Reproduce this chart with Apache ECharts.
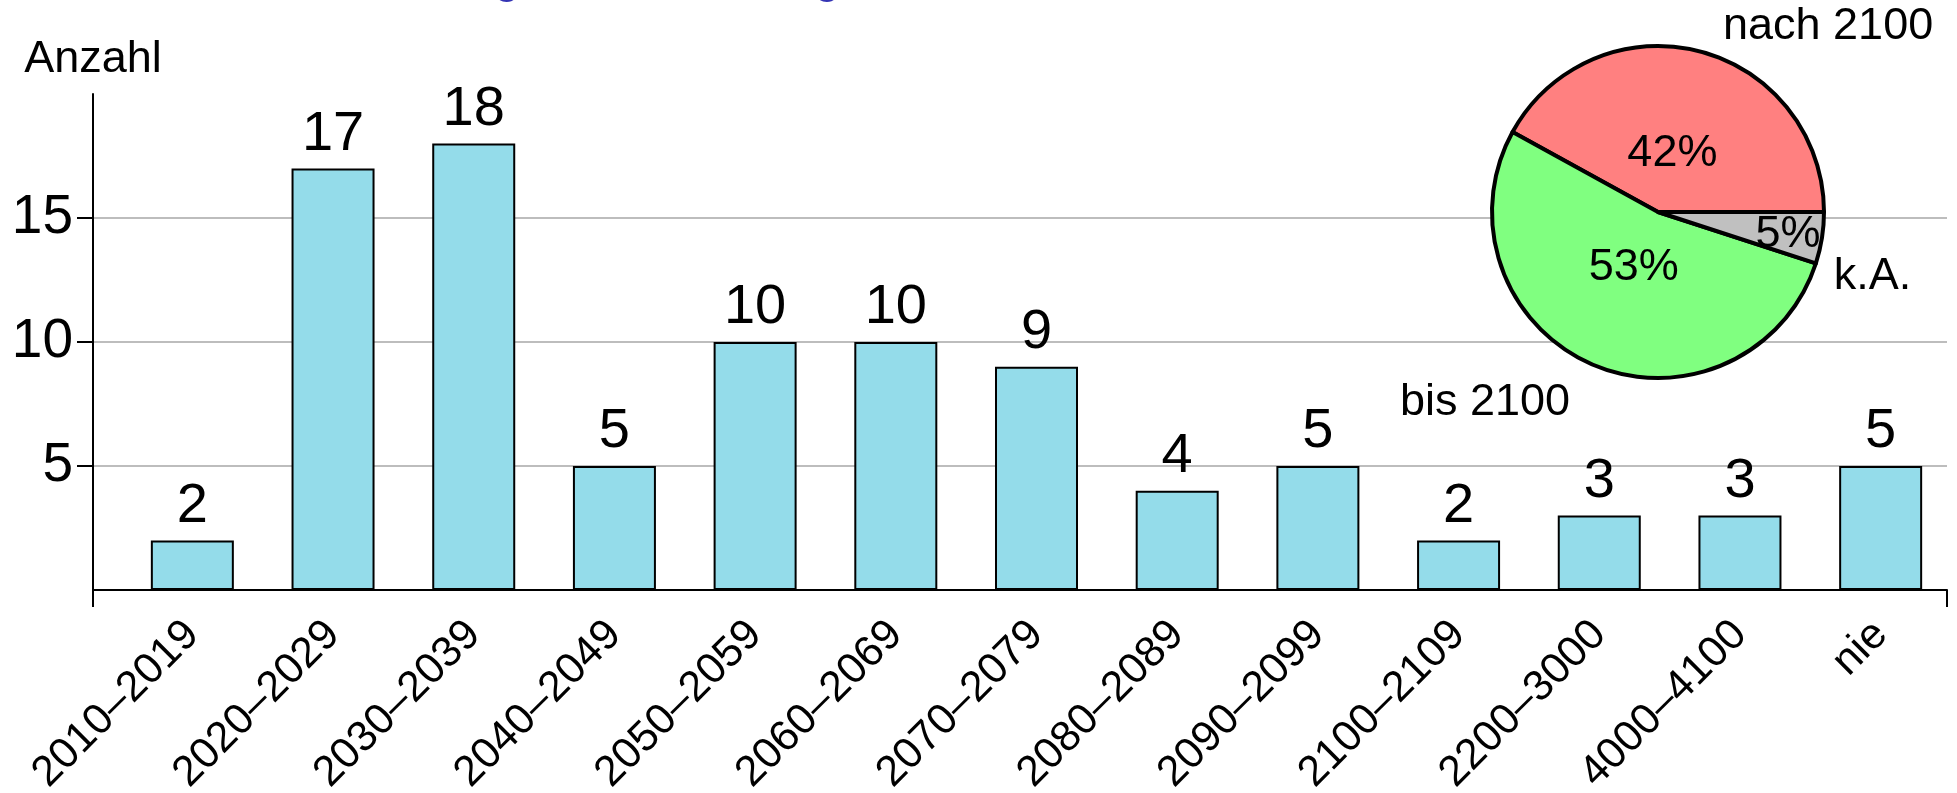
<!DOCTYPE html>
<html>
<head>
<meta charset="utf-8">
<title>Anzahl</title>
<script src="https://cdn.jsdelivr.net/npm/echarts@6/dist/echarts.min.js"></script>
<style>
  html, body { margin: 0; padding: 0; background: #ffffff; }
  #chart { width: 1957px; height: 793px; }
</style>
</head>
<body>
<div id="chart"></div>
<script>
// Daten
const categories = ['2010–2019', '2020–2029', '2030–2039', '2040–2049', '2050–2059', '2060–2069',
  '2070–2079', '2080–2089', '2090–2099', '2100–2109', '2200–3000', '4000–4100', 'nie']
const counts = [2, 17, 18, 5, 10, 10, 9, 4, 5, 2, 3, 3, 5]

const pieNames = ['nach 2100', 'bis 2100', 'k.A.']
const piePercents = [42, 53, 5]
const pieColors = ['#ff8080', '#80ff80', '#c0c0c0']

const yMax = 20
const yStep = 5

const FONT = 'Liberation Sans'

const chart = echarts.init(document.getElementById('chart'))

const pieData = pieNames.map((name, i) => ({
  name: name,
  value: piePercents[i],
  itemStyle: { color: pieColors[i] }
}))

// Versatz der Beschriftungen (wie im Original)
const innerShift = [[-7, 25], [10, -23], [45, 9]]
const outerShift = [[0, -10], [4, 24], [-23, 36]]

const option = {
  backgroundColor: '#ffffff',
  animation: false,
  textStyle: { fontFamily: FONT, color: '#000' },
  title: {
    text: 'Prognosen zur Singularität',
    left: 414,
    top: -50,
    textStyle: {
      color: '#3434b4',
      fontSize: 48,
      fontWeight: 'normal',
      fontFamily: FONT,
      lineHeight: 48
    }
  },
  grid: [
    { left: 93, right: 10, top: 94, bottom: 203, outerBoundsMode: 'none', containLabel: false },
    { left: 122, right: 6, top: 94, bottom: 203, outerBoundsMode: 'none', containLabel: false }
  ],
  xAxis: [
    {
      gridIndex: 0,
      type: 'value',
      min: 0,
      max: 1,
      interval: 1,
      axisLine: { show: true, onZero: false, lineStyle: { color: '#000', width: 2 } },
      axisTick: { show: true, length: 17, lineStyle: { color: '#000', width: 2 } },
      axisLabel: { show: false },
      splitLine: { show: false }
    },
    {
      gridIndex: 1,
      type: 'category',
      data: categories,
      axisLine: { show: false },
      axisTick: { show: false },
      axisLabel: {
        interval: 0,
        rotate: 45,
        margin: 38,
        fontSize: 43,
        color: '#000',
        fontFamily: FONT
      }
    }
  ],
  yAxis: [
    {
      gridIndex: 0,
      type: 'value',
      min: 0,
      max: yMax,
      interval: yStep,
      name: 'Anzahl',
      nameLocation: 'end',
      nameGap: 12,
      nameTextStyle: { fontSize: 45, color: '#000', fontFamily: FONT },
      axisLine: { show: true, onZero: false, lineStyle: { color: '#000', width: 2 } },
      axisTick: { show: true, length: 16, lineStyle: { color: '#000', width: 2 } },
      axisLabel: {
        fontSize: 55,
        margin: 20,
        color: '#000',
        fontFamily: FONT,
        showMinLabel: false,
        showMaxLabel: false
      },
      splitLine: {
        show: true,
        showMinLine: false,
        showMaxLine: false,
        lineStyle: { color: '#bdbdbd', width: 2 }
      }
    },
    {
      gridIndex: 1,
      type: 'value',
      min: 0,
      max: yMax,
      show: false
    }
  ],
  series: [
    {
      type: 'bar',
      xAxisIndex: 1,
      yAxisIndex: 1,
      data: counts,
      barWidth: 83,
      itemStyle: { color: '#94dcea', borderColor: '#000', borderWidth: 2 },
      label: {
        show: true,
        position: 'top',
        distance: 6,
        fontSize: 56,
        color: '#000',
        fontFamily: FONT
      },
      z: 3
    },
    {
      type: 'pie',
      center: [1658, 212],
      radius: 166,
      startAngle: 0,
      clockwise: false,
      avoidLabelOverlap: false,
      data: pieData,
      itemStyle: { borderColor: '#000', borderWidth: 4 },
      label: {
        show: true,
        position: 'inside',
        formatter: '{c}%',
        fontSize: 45,
        color: '#000',
        fontFamily: FONT
      },
      labelLine: { show: false },
      labelLayout: function (params) {
        const s = innerShift[params.dataIndex]
        return { dx: s[0], dy: s[1] }
      },
      emphasis: { disabled: true },
      z: 4
    },
    {
      // nur Namen außen
      type: 'pie',
      center: [1658, 212],
      radius: 166,
      startAngle: 0,
      clockwise: false,
      avoidLabelOverlap: false,
      silent: true,
      data: pieData.map(d => ({ name: d.name, value: d.value })),
      itemStyle: { color: 'rgba(0,0,0,0)', borderWidth: 0 },
      label: {
        show: true,
        position: 'outside',
        formatter: '{b}',
        fontSize: 45,
        color: '#000',
        fontFamily: FONT
      },
      labelLine: { show: false, length: 15, length2: 15 },
      labelLayout: function (params) {
        const s = outerShift[params.dataIndex]
        return { dx: s[0], dy: s[1] }
      },
      emphasis: { disabled: true },
      z: 5
    }
  ]
}

chart.setOption(option)
</script>
</body>
</html>
